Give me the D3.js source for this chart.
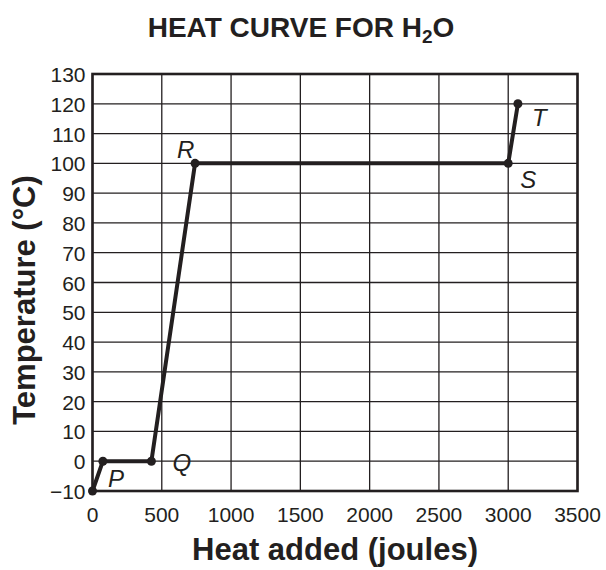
<!DOCTYPE html>
<html>
<head>
<meta charset="utf-8">
<script src="https://cdn.jsdelivr.net/npm/d3@7"></script>
<style>
  body { margin: 0; background: #fff; }
  text { font-family: "Liberation Sans", Arial, sans-serif; fill: #231f20; }
</style>
</head>
<body>
<div id="chart"></div>
<script>
// heat curve points (joules, degrees C)
var heat = [0, 75, 425, 740, 3000, 3070];
var temp = [-10, 0, 0, 100, 100, 120];
var pointNames = ["", "P", "Q", "R", "S", "T"];
var xTicks = [0, 500, 1000, 1500, 2000, 2500, 3000, 3500];
var yTicks = [-10, 0, 10, 20, 30, 40, 50, 60, 70, 80, 90, 100, 110, 120, 130];

var ink = "#231f20";
var plotL = 92.5, plotR = 577.5, plotT = 74, plotB = 491;

var svg = d3.select("#chart")
  .append("svg")
  .attr("width", 606).attr("height", 570);

var x = d3.scaleLinear().domain([0, 3500]).range([plotL, plotR]);
var y = d3.scaleLinear().domain([-10, 130]).range([plotB, plotT]);

// grid lines
svg.append("g")
  .selectAll("line")
  .data(xTicks)
  .enter().append("line")
  .attr("x1", d => x(d)).attr("x2", d => x(d))
  .attr("y1", plotT).attr("y2", plotB)
  .attr("stroke", ink).attr("stroke-width", 1.3);

svg.append("g")
  .selectAll("line")
  .data(yTicks)
  .enter().append("line")
  .attr("x1", plotL).attr("x2", plotR)
  .attr("y1", d => y(d)).attr("y2", d => y(d))
  .attr("stroke", ink).attr("stroke-width", 1.3);

// frame
svg.append("rect")
  .attr("x", plotL).attr("y", plotT)
  .attr("width", plotR - plotL).attr("height", plotB - plotT)
  .attr("fill", "none").attr("stroke", ink).attr("stroke-width", 2.6);

// tick labels
svg.append("g")
  .selectAll("text")
  .data(yTicks)
  .enter().append("text")
  .attr("x", plotL - 7).attr("y", d => y(d) + 8)
  .attr("text-anchor", "end")
  .attr("font-size", 21)
  .text(d => d < 0 ? "\u2212" + (-d) : d);

svg.append("g")
  .selectAll("text")
  .data(xTicks)
  .enter().append("text")
  .attr("x", d => x(d)).attr("y", plotB + 31)
  .attr("text-anchor", "middle")
  .attr("font-size", 21)
  .text(d => d);

// the curve
var pts = heat.map((h, i) => [h, temp[i], pointNames[i]]);
var line = d3.line().x(d => x(d[0])).y(d => y(d[1]));

svg.append("path")
  .datum(pts)
  .attr("d", line)
  .attr("fill", "none")
  .attr("stroke", ink).attr("stroke-width", 4)
  .attr("stroke-linejoin", "round");

svg.append("g")
  .selectAll("circle")
  .data(pts)
  .enter().append("circle")
  .attr("cx", d => x(d[0])).attr("cy", d => y(d[1]))
  .attr("r", 4.5)
  .attr("fill", ink);

// point letters
var labelOffset = { P: [5, 26], Q: [21, 10], R: [-18, -5], S: [12, 25], T: [14, 22] };
svg.append("g")
  .selectAll("text")
  .data(pts.filter(d => d[2]))
  .enter().append("text")
  .attr("x", d => x(d[0]) + labelOffset[d[2]][0])
  .attr("y", d => y(d[1]) + labelOffset[d[2]][1])
  .attr("font-size", 24)
  .attr("font-style", "italic")
  .text(d => d[2]);

// title
var title = svg.append("text")
  .attr("x", 301).attr("y", 37)
  .attr("text-anchor", "middle")
  .attr("font-size", 28)
  .attr("font-weight", "bold");
title.append("tspan").text("HEAT CURVE FOR H");
title.append("tspan").attr("font-size", 19).attr("dy", 6).text("2");
title.append("tspan").attr("dy", -6).text("O");

// axis titles
svg.append("text")
  .attr("x", 335).attr("y", 560)
  .attr("text-anchor", "middle")
  .attr("font-size", 31)
  .attr("font-weight", "bold")
  .text("Heat added (joules)");

svg.append("text")
  .attr("transform", "translate(35,300) rotate(-90)")
  .attr("text-anchor", "middle")
  .attr("font-size", 31)
  .attr("font-weight", "bold")
  .text("Temperature (\u00b0C)");
</script>
</body>
</html>
